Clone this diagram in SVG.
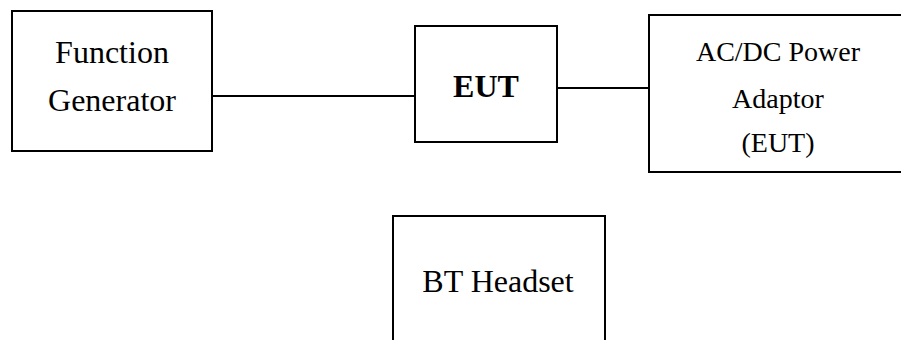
<svg xmlns="http://www.w3.org/2000/svg" width="901" height="340" viewBox="0 0 901 340">
<style>
.box{fill:#fff;stroke:#000;stroke-width:2}
.ln{stroke:#000;stroke-width:2;fill:none}
text{font-family:"Liberation Serif","Times New Roman",serif;fill:#000;text-anchor:middle}
.t{font-size:32px}
.s{font-size:28px}
.b{font-size:32px;font-weight:bold}
</style>
<rect width="901" height="340" fill="#fff"/>
<g id="connectors">
<line class="ln" x1="212" y1="96" x2="415" y2="96"/>
<line class="ln" x1="557" y1="88" x2="649" y2="88"/>
</g>
<g id="function-generator">
<rect class="box" x="12" y="11" width="200" height="140"/>
<text class="t" x="112" y="63">Function</text>
<text class="t" x="112" y="111">Generator</text>
</g>
<g id="eut">
<rect class="box" x="415" y="26" width="142" height="116"/>
<text class="b" x="486" y="97">EUT</text>
</g>
<g id="adaptor">
<rect class="box" x="649" y="15" width="258" height="157"/>
<text class="s" x="778" y="61">AC/DC Power</text>
<text class="s" x="778" y="108">Adaptor</text>
<text class="s" x="778" y="152">(EUT)</text>
</g>
<g id="bt-headset">
<rect class="box" x="393" y="216" width="212" height="140"/>
<text class="t" x="498" y="292">BT Headset</text>
</g>
</svg>
